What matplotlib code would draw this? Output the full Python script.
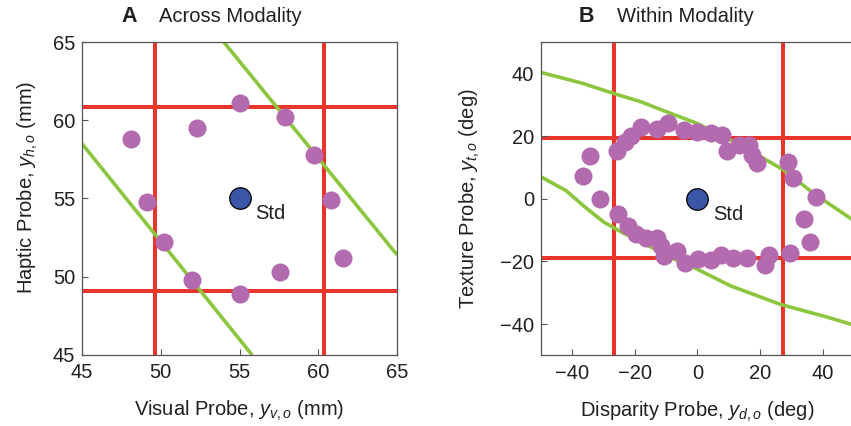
import matplotlib as mpl

mpl.use("agg")

import matplotlib.pyplot as plt

plt.rcParams["font.family"] = ["Liberation Sans", "DejaVu Sans"]
plt.rcParams["mathtext.fontset"] = "custom"
plt.rcParams["mathtext.it"] = "Liberation Sans:italic"
plt.rcParams["mathtext.rm"] = "Liberation Sans"

# colours
RED = "#e8352b"
GREEN = "#8cc63f"
PURPLE = "#b36aae"
BLUE = "#3a56a8"
INK = "#231f20"

# panel A: across modality (mm)
a_std = (55.0, 55.0)
a_probe_x = [48.1, 52.3, 55.0, 57.9, 59.7, 49.1, 60.8, 50.2, 52.0, 55.0, 57.6, 61.6]
a_probe_y = [58.8, 59.5, 61.1, 60.2, 57.8, 54.8, 54.9, 52.2, 49.8, 48.9, 50.3, 51.2]
a_red_v = [49.65, 60.35]
a_red_h = [49.08, 60.86]
a_green_upper_x = [54.0, 65.0]
a_green_upper_y = [65.0, 51.4]
a_green_lower_x = [45.0, 55.8]
a_green_lower_y = [58.5, 45.0]

# panel B: within modality (deg)
b_std = (0.0, 0.0)
b_probe_x = [
    -34.4, -36.5, -31.2,
    -25.6, -23.3, -21.2, -18.0, -12.9, -9.5, -4.3, 0.0, 4.2, 7.9, 9.3, 13.2, 16.4, 17.5, 19.0,
    28.8, 30.4, 37.9, 34.1, 36.0,
    -25.4, -22.2, -19.6, -16.4, -12.9, -11.7, -10.6, -6.7, -4.0, 0.3, 4.2, 7.6, 11.4, 15.7,
    21.7, 23.0, 29.6,
]
b_probe_y = [
    13.7, 7.1, -0.1,
    15.3, 18.2, 20.0, 22.8, 22.1, 24.3, 21.9, 21.3, 20.9, 20.3, 15.3, 17.1, 17.1, 14.0, 11.3,
    11.8, 6.6, 0.4, -6.4, -13.9,
    -4.9, -8.6, -11.4, -12.5, -12.5, -15.1, -18.3, -16.7, -20.6, -19.2, -19.4, -18.1, -18.8, -18.8,
    -21.2, -17.8, -17.2,
]
b_red_v = [-26.8, 27.2]
b_red_h = [-19.05, 19.3]
b_green_upper_x = [-50, -37, -26.8, -18, -8.5, 0, 10.6, 21.1, 27.5, 37, 50]
b_green_upper_y = [40.3, 36.9, 33.6, 30.9, 27.2, 24.0, 18.7, 12.9, 9.2, 1.8, -7.0]
b_green_lower_x = [-50, -42, -36, -30, -24, -16, -8, 0, 10.6, 26.5, 40.2, 50]
b_green_lower_y = [7.0, 2.6, -2.6, -7.4, -10.8, -14.8, -19.0, -22.5, -27.8, -33.7, -37.4, -40.3]

FS = 14.5


def draw_panel(ax, red_v, red_h, greens, px, py, std, lim, ticks):
    for v in red_v:
        ax.axvline(v, color=RED, lw=2.9, zorder=1)
    for h in red_h:
        ax.axhline(h, color=RED, lw=2.9, zorder=1)
    for gx, gy in greens:
        ax.plot(gx, gy, color=GREEN, lw=2.6, zorder=2, solid_capstyle="butt")
    ax.plot(px, py, "o", ms=13, color=PURPLE, mec="none", zorder=3)
    ax.plot([std[0]], [std[1]], "o", ms=15.5, color=BLUE, mec="black", mew=0.9, zorder=4)
    ax.annotate("Std", std, xytext=(11, -11), textcoords="offset points",
                ha="left", va="center", fontsize=FS, color=INK, zorder=5)
    ax.set_xlim(lim)
    ax.set_ylim(lim)
    ax.set_xticks(ticks)
    ax.set_yticks(ticks)
    ax.tick_params(direction="in", length=4, width=0.8, color="#555555",
                   labelsize=FS, labelcolor=INK, pad=5)
    ax.tick_params(axis="x", pad=6)
    for sp in ax.spines.values():
        sp.set_color("#555555")
        sp.set_linewidth(0.9)


fig = plt.figure(figsize=(8.51, 4.26), dpi=100)
ax_a = fig.add_axes([0.0964, 0.1667, 0.3701, 0.7347])
ax_b = fig.add_axes([0.6357, 0.1655, 0.3678, 0.7359])

draw_panel(ax_a, a_red_v, a_red_h,
           [(a_green_upper_x, a_green_upper_y), (a_green_lower_x, a_green_lower_y)],
           a_probe_x, a_probe_y, a_std, (45, 65), [45, 50, 55, 60, 65])
draw_panel(ax_b, b_red_v, b_red_h,
           [(b_green_upper_x, b_green_upper_y), (b_green_lower_x, b_green_lower_y)],
           b_probe_x, b_probe_y, b_std, (-50, 50), [-40, -20, 0, 20, 40])
ax_b.spines["right"].set_visible(False)

ax_a.set_xlabel(r"Visual Probe, $y_{v,o}$ (mm)", fontsize=FS, color=INK, labelpad=12)
ax_a.set_ylabel(r"Haptic Probe, $y_{h,o}$ (mm)", fontsize=FS, color=INK)
ax_a.yaxis.set_label_coords(-0.135, 0.535)
ax_b.set_xlabel(r"Disparity Probe, $y_{d,o}$ (deg)", fontsize=FS, color=INK, labelpad=12)
ax_b.set_ylabel(r"Texture Probe, $y_{t,o}$ (deg)", fontsize=FS, color=INK)
ax_b.yaxis.set_label_coords(-0.19, 0.5)

fig.text(121 / 851, 1 - 17 / 426, "A", fontsize=15.5, fontweight="bold", color=INK,
         ha="left", va="center")
fig.text(159 / 851, 1 - 17 / 426, "Across Modality", fontsize=FS, color=INK,
         ha="left", va="center")
fig.text(579 / 851, 1 - 17 / 426, "B", fontsize=15.5, fontweight="bold", color=INK,
         ha="left", va="center")
fig.text(617 / 851, 1 - 17 / 426, "Within Modality", fontsize=FS, color=INK,
         ha="left", va="center")

fig.savefig("out.png", dpi=100)
